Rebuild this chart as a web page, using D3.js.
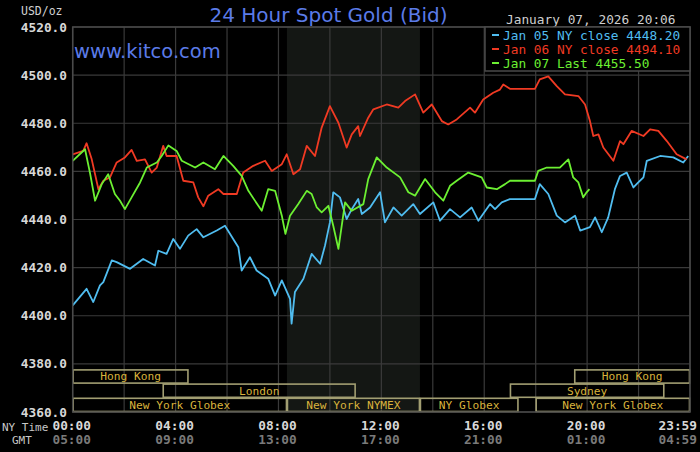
<!DOCTYPE html>
<html>
<head>
<meta charset="utf-8">
<script src="https://cdn.jsdelivr.net/npm/d3@7"></script>
<style>
  html, body { margin: 0; padding: 0; background: #000; }
  svg { display: block; }
</style>
</head>
<body>
<svg id="chart" width="700" height="452"></svg>
<script>
// ---- data (hours in NY time, price in USD/oz) ----
const jan05Hours = [0, 0.54, 0.8, 1.06, 1.19, 1.52, 1.71, 2.23, 2.74, 3.2, 3.33, 3.65, 3.91, 4.17, 4.49, 4.82, 5.08, 5.6, 5.92, 6.24, 6.44, 6.57, 6.89, 7.15, 7.6, 7.87, 8.13, 8.45, 8.51, 8.64, 8.97, 9.29, 9.62, 9.81, 10.0, 10.13, 10.39, 10.65, 10.85, 11.1, 11.24, 11.56, 11.95, 12.14, 12.47, 12.79, 13.24, 13.5, 14.02, 14.28, 14.67, 15.06, 15.51, 15.77, 16.23, 16.42, 16.68, 17.0, 17.97, 18.16, 18.49, 18.82, 19.14, 19.53, 19.73, 20.11, 20.31, 20.57, 20.82, 21.08, 21.28, 21.54, 21.8, 21.99, 22.19, 22.32, 22.84, 23.35, 23.74, 23.93];
const jan05Values = [4404.3, 4411.2, 4405.7, 4412.6, 4414, 4423, 4422.3, 4419.5, 4423.6, 4420.9, 4427, 4425.7, 4431.9, 4427.8, 4433.3, 4436, 4432.6, 4435.4, 4437.4, 4431.9, 4428.5, 4418.8, 4424.3, 4418.8, 4415.4, 4408.4, 4414.7, 4407, 4396.7, 4409.9, 4415.4, 4425.7, 4421.6, 4429.2, 4438.8, 4451.3, 4449.2, 4440.2, 4444.3, 4448.5, 4442.3, 4445, 4451.3, 4438.8, 4445, 4441.6, 4446.4, 4442.3, 4447.1, 4439.5, 4444.3, 4440.9, 4445, 4439.5, 4446.4, 4444.3, 4447.1, 4448.5, 4448.5, 4454.7, 4450.6, 4441.6, 4438.8, 4441.6, 4435.4, 4436.8, 4440.9, 4434.7, 4440.9, 4452.6, 4458.1, 4459.5, 4453.3, 4455.4, 4457.5, 4464.4, 4466.4, 4465.8, 4463.7, 4466.4];

const jan06Hours = [0, 0.41, 0.54, 0.74, 1.0, 1.19, 1.45, 1.71, 2.03, 2.29, 2.49, 2.81, 3.07, 3.27, 3.52, 3.65, 4.04, 4.3, 4.69, 4.88, 5.08, 5.27, 5.66, 5.86, 6.38, 6.63, 7.02, 7.48, 7.74, 8.13, 8.32, 8.58, 8.84, 9.1, 9.42, 9.68, 10.0, 10.33, 10.65, 10.85, 11.1, 11.17, 11.49, 11.69, 12.21, 12.66, 12.92, 13.31, 13.63, 13.96, 14.35, 14.6, 14.93, 15.45, 15.64, 15.96, 16.35, 16.61, 16.74, 17.0, 17.97, 18.16, 18.49, 18.82, 19.14, 19.66, 19.92, 20.11, 20.24, 20.44, 20.63, 21.02, 21.28, 21.41, 21.73, 22.19, 22.45, 22.77, 23.1, 23.48, 23.87];
const jan06Values = [4467.1, 4468.5, 4471.7, 4465, 4452.6, 4456.1, 4457.5, 4463.7, 4465.8, 4468.9, 4464.4, 4465, 4459.5, 4461.6, 4470.6, 4466.4, 4466.4, 4456.1, 4455.4, 4449.2, 4445.5, 4449.9, 4452.6, 4450.6, 4450.6, 4459.5, 4462.3, 4464.4, 4460.2, 4463, 4467.1, 4458.8, 4460.9, 4470.6, 4466.4, 4478.2, 4487.1, 4480.2, 4469.9, 4475.4, 4478.8, 4474.7, 4482.3, 4485.8, 4487.8, 4486.5, 4489.2, 4492, 4484.4, 4487.8, 4480.9, 4479.5, 4481.6, 4486.5, 4484.4, 4489.9, 4492.7, 4494, 4496.1, 4494.3, 4494.3, 4498.2, 4499.5, 4495.4, 4492, 4491.3, 4487.8, 4480.9, 4474.7, 4475.4, 4469.9, 4464.4, 4472.6, 4471.3, 4476.8, 4474.7, 4477.5, 4476.8, 4472.6, 4467.1, 4465];

const jan07Hours = [0, 0.48, 0.67, 0.87, 1.13, 1.38, 1.64, 1.84, 2.03, 2.29, 2.62, 2.88, 3.27, 3.46, 3.72, 4.04, 4.24, 4.76, 5.08, 5.53, 5.86, 6.24, 6.57, 6.83, 7.35, 7.6, 7.87, 8.13, 8.27, 8.45, 8.77, 9.1, 9.29, 9.49, 9.68, 9.94, 10.13, 10.33, 10.59, 10.85, 11.3, 11.49, 11.82, 12.21, 12.73, 13.05, 13.31, 13.7, 14.09, 14.41, 14.67, 14.93, 15.38, 15.9, 16.1, 16.49, 16.81, 17.0, 17.97, 18.1, 18.43, 18.94, 19.27, 19.46, 19.66, 19.85, 19.98, 20.09];
const jan07Values = [4464.4, 4469.2, 4459.5, 4447.8, 4454.7, 4458.8, 4450.6, 4447.8, 4444.3, 4449.2, 4455.4, 4461.6, 4463.7, 4466.4, 4470.8, 4468.5, 4464.4, 4461.6, 4463.7, 4460.9, 4466.4, 4462.3, 4458.1, 4451.9, 4443.6, 4452.6, 4451.9, 4441.6, 4434, 4441.6, 4446.4, 4451.9, 4450.6, 4445, 4443, 4445.7, 4437.4, 4427.8, 4447.1, 4443.6, 4446.4, 4456.8, 4465.8, 4461.6, 4457.5, 4451.3, 4449.9, 4456.8, 4451.3, 4447.8, 4454, 4456.1, 4459.5, 4457.5, 4453.3, 4452.6, 4454.7, 4456.1, 4456.1, 4460.2, 4461.6, 4461.6, 4465, 4457.5, 4455.4, 4449.2, 4451.3, 4452.6];

const legendLabels = ['Jan 05 NY close 4448.20', 'Jan 06 NY close 4494.10', 'Jan 07 Last 4455.50'];

const yTicks = [4360, 4380, 4400, 4420, 4440, 4460, 4480, 4500, 4520];
const xTickHours = [0, 4, 8, 12, 16, 20, 24];
const nyTimeLabels = ['00:00', '04:00', '08:00', '12:00', '16:00', '20:00', '23:59'];
const gmtLabels = ['05:00', '09:00', '13:00', '17:00', '21:00', '01:00', '04:59'];

// trading sessions: row 0 = top
const sessionNames = ['Hong Kong', 'London', 'New York Globex', 'New York NYMEX', 'NY Globex', 'New York Globex', 'Sydney', 'Hong Kong'];
const sessionStart = [0, 3.5, 0, 8.33, 13.5, 18, 17, 19.5];
const sessionEnd = [4.5, 11, 8.33, 13.5, 17.33, 24, 23, 24];
const sessionRow = [0, 1, 2, 2, 2, 2, 1, 0];

const nymexOpen = 8.33;
const nymexClose = 13.5;

const titleText = '24 Hour Spot Gold (Bid)';
const stampText = 'January 07, 2026 20:06';

(function () {
  // ---- layout ----
  const plotLeft = 72.7, plotRight = 690, plotTop = 27, plotBottom = 412;
  const monoFont = '"DejaVu Sans Mono", monospace';

  const svg = d3.select('#chart');
  svg.append('rect').attr('width', 700).attr('height', 452).attr('fill', '#000');

  const x = d3.scaleLinear().domain([0, 24]).range([plotLeft, plotRight]);
  const y = d3.scaleLinear().domain([4360, 4520]).range([plotBottom, plotTop]);

  // NYMEX shading
  svg.append('rect')
    .attr('x', x(nymexOpen)).attr('y', plotTop)
    .attr('width', x(nymexClose) - x(nymexOpen)).attr('height', plotBottom - plotTop)
    .attr('fill', '#141714');

  // grid
  const grid = svg.append('g').attr('stroke', '#3a3a3a').attr('stroke-width', 1.2);
  grid.selectAll('line.v')
    .data(d3.range(0, 25, 2))
    .join('line')
    .attr('class', 'v')
    .attr('x1', (d) => x(d)).attr('x2', (d) => x(d))
    .attr('y1', plotTop).attr('y2', plotBottom);
  grid.selectAll('line.h')
    .data(yTicks)
    .join('line')
    .attr('class', 'h')
    .attr('x1', plotLeft).attr('x2', plotRight)
    .attr('y1', (d) => y(d)).attr('y2', (d) => y(d));

  // session bars
  const rowH = 14.2;
  const rowTop = plotBottom - 3 * rowH;
  const sessions = sessionNames.map((n, i) => ({ name: n, s: sessionStart[i], e: sessionEnd[i], row: sessionRow[i] }));
  const sg = svg.append('g');
  sg.selectAll('rect')
    .data(sessions)
    .join('rect')
    .attr('x', (d) => x(d.s) + 0.5)
    .attr('y', (d) => rowTop + d.row * rowH + 0.5)
    .attr('width', (d) => x(d.e) - x(d.s) - 1)
    .attr('height', rowH - 1)
    .attr('fill', 'none')
    .attr('stroke', '#a29e72')
    .attr('stroke-width', 1.6);
  sg.selectAll('text')
    .data(sessions)
    .join('text')
    .attr('x', (d) => (x(d.s) + x(d.e)) / 2)
    .attr('y', (d) => rowTop + d.row * rowH + 11)
    .attr('text-anchor', 'middle')
    .attr('font-family', monoFont)
    .attr('font-size', 11.2)
    .attr('fill', '#d9b33c')
    .text((d) => d.name);

  // price lines
  const series = [
    { hours: jan05Hours, values: jan05Values, color: '#50bdf0' },
    { hours: jan06Hours, values: jan06Values, color: '#f03a23' },
    { hours: jan07Hours, values: jan07Values, color: '#6cf032' }
  ];
  const line = d3.line().x((d) => x(d[0])).y((d) => y(d[1]));
  svg.append('g')
    .selectAll('path')
    .data(series)
    .join('path')
    .attr('d', (s) => line(s.hours.map((h, i) => [h, s.values[i]])))
    .attr('fill', 'none')
    .attr('stroke', (s) => s.color)
    .attr('stroke-width', 1.8)
    .attr('stroke-linejoin', 'round');

  // plot border
  svg.append('rect')
    .attr('x', plotLeft).attr('y', plotTop)
    .attr('width', plotRight - plotLeft).attr('height', plotBottom - plotTop)
    .attr('fill', 'none').attr('stroke', '#4a4a4a').attr('stroke-width', 1.5);

  // y axis labels
  svg.append('g')
    .selectAll('text')
    .data(yTicks)
    .join('text')
    .attr('x', 67).attr('y', (d) => y(d) + 4.5)
    .attr('text-anchor', 'end')
    .attr('font-family', monoFont).attr('font-weight', 'bold')
    .attr('font-size', 12.8).attr('fill', '#d8d8d8')
    .text((d) => d3.format('.1f')(d));

  svg.append('text')
    .attr('x', 21).attr('y', 15)
    .attr('font-family', monoFont).attr('font-size', 11.5).attr('fill', '#d0d0d0')
    .text('USD/oz');

  // x axis labels
  const last = xTickHours.length - 1;
  const labelX = (d, i) => (i === last ? 697 : x(d) - 1);
  const labelAnchor = (d, i) => (i === last ? 'end' : 'middle');
  const xl = svg.append('g').attr('font-family', monoFont).attr('font-weight', 'bold').attr('font-size', 12.8);
  xl.append('g').selectAll('text')
    .data(xTickHours)
    .join('text')
    .attr('x', labelX).attr('y', 430)
    .attr('text-anchor', labelAnchor)
    .attr('fill', '#d8d8d8')
    .text((d, i) => nyTimeLabels[i]);
  xl.append('g').selectAll('text')
    .data(xTickHours)
    .join('text')
    .attr('x', labelX).attr('y', 444)
    .attr('text-anchor', labelAnchor)
    .attr('fill', '#7a7a7a')
    .text((d, i) => gmtLabels[i]);

  svg.append('text').attr('x', 2).attr('y', 431)
    .attr('font-family', monoFont).attr('font-size', 11).attr('fill', '#c8c8c8')
    .text('NY Time');
  svg.append('text').attr('x', 12).attr('y', 444)
    .attr('font-family', monoFont).attr('font-size', 11).attr('fill', '#c8c8c8')
    .text('GMT');

  // title + site
  svg.append('text')
    .attr('x', 328.5).attr('y', 22)
    .attr('text-anchor', 'middle')
    .attr('font-family', '"DejaVu Sans", sans-serif').attr('font-size', 20)
    .attr('fill', '#5b7be8')
    .text(titleText);
  svg.append('text')
    .attr('x', 74).attr('y', 58)
    .attr('font-family', '"DejaVu Sans", sans-serif').attr('font-size', 19.5)
    .attr('fill', '#5b7be8')
    .text('www.kitco.com');

  // timestamp
  svg.append('text')
    .attr('x', 506).attr('y', 24)
    .attr('font-family', monoFont).attr('font-size', 12.8).attr('fill', '#cfcfcf')
    .text(stampText);

  // legend
  const lg = svg.append('g');
  lg.append('rect')
    .attr('x', 485).attr('y', plotTop).attr('width', plotRight - 485).attr('height', 44)
    .attr('fill', '#000').attr('stroke', '#4a4a4a').attr('stroke-width', 1.5);
  lg.selectAll('line')
    .data(series)
    .join('line')
    .attr('x1', 492).attr('x2', 499)
    .attr('y1', (d, i) => 35 + i * 14).attr('y2', (d, i) => 35 + i * 14)
    .attr('stroke', (d) => d.color).attr('stroke-width', 2);
  lg.selectAll('text')
    .data(series)
    .join('text')
    .attr('x', 503).attr('y', (d, i) => 39.5 + i * 14)
    .attr('font-family', monoFont).attr('font-size', 12.8)
    .attr('fill', (d) => d.color)
    .text((d, i) => legendLabels[i]);
})();
</script>
</body>
</html>
